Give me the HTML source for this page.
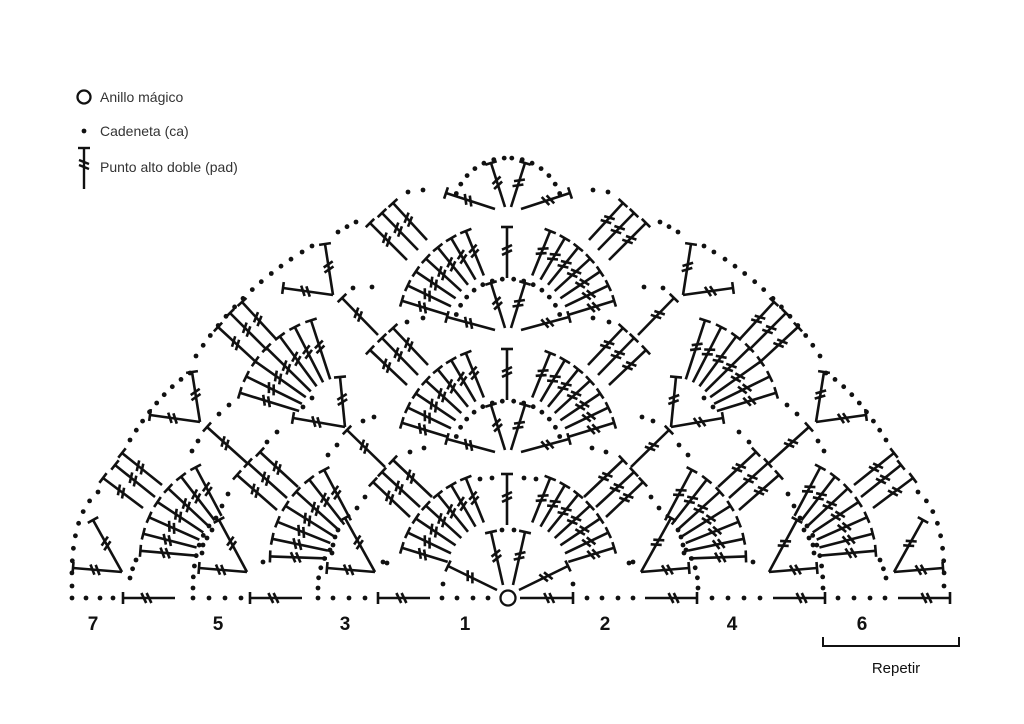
<!DOCTYPE html>
<html><head><meta charset="utf-8"><style>
html,body{margin:0;padding:0;background:#fff;}
#c{position:absolute;left:0;top:0;}
.t{font-family:"Liberation Sans",sans-serif;fill:#333;}
</style></head><body>
<svg id="c" width="1024" height="724" viewBox="0 0 1024 724" xmlns="http://www.w3.org/2000/svg">
<g id="g" stroke="#111" stroke-width="2.6" fill="none" stroke-linecap="butt"></g>
<g id="d" fill="#111"></g>
<circle cx="508" cy="598" r="7.5" stroke="#111" stroke-width="2.3" fill="#fff"/>
<!-- legend -->
<circle cx="84" cy="97" r="6.5" stroke="#111" stroke-width="2.3" fill="none"/>
<text class="t" x="100" y="102" font-size="14">Anillo mágico</text>
<circle cx="84" cy="131" r="2.4" fill="#111"/>
<text class="t" x="100" y="136" font-size="14">Cadeneta (ca)</text>
<g stroke="#111" stroke-width="2.4">
<line x1="84" y1="148" x2="84" y2="189"/><line x1="78" y1="148" x2="90" y2="148"/>
<line x1="79" y1="160" x2="89" y2="164"/><line x1="79" y1="165" x2="89" y2="169"/>
</g>
<text class="t" x="100" y="172" font-size="14">Punto alto doble (pad)</text>
<!-- row numbers -->
<g font-family="Liberation Sans, sans-serif" font-size="19" font-weight="bold" fill="#111" text-anchor="middle">
<text x="93" y="630">7</text><text x="218" y="630">5</text><text x="345" y="630">3</text>
<text x="465" y="630">1</text><text x="605" y="630">2</text><text x="732" y="630">4</text><text x="862" y="630">6</text>
</g>
<path d="M823,637 L823,646 L959,646 L959,637" stroke="#111" stroke-width="2" fill="none"/>
<text x="896" y="673" font-family="Liberation Sans, sans-serif" font-size="15" fill="#111" text-anchor="middle">Repetir</text>
</svg>
<script>
var G=[],D=[],M=false;
function X(x){return M?1016-x:x;}
function ln(a,b,c,d){G.push('<line x1="'+a.toFixed(1)+'" y1="'+b.toFixed(1)+'" x2="'+c.toFixed(1)+'" y2="'+d.toFixed(1)+'"/>');}
function dot(x,y){D.push('<circle cx="'+X(x).toFixed(1)+'" cy="'+y.toFixed(1)+'" r="2.4"/>');}
function st(x1,y1,x2,y2){
 x1=X(x1);x2=X(x2);
 var dx=x2-x1,dy=y2-y1,l=Math.hypot(dx,dy),ux=dx/l,uy=dy/l,px=-uy,py=ux;
 ln(x1,y1,x2,y2);
 ln(x2+px*6,y2+py*6,x2-px*6,y2-py*6);
 var cx=x1+dx*0.55,cy=y1+dy*0.55;
 var ca=Math.cos(0.45),sa=Math.sin(0.45);
 var bx=px*ca+ux*sa,by=py*ca+uy*sa;
 [-2.6,2.6].forEach(function(k){var ox=cx+ux*k,oy=cy+uy*k;ln(ox-bx*5.5,oy-by*5.5,ox+bx*5.5,oy+by*5.5);});
}
function fan(cx,cy,a1,a2,n,r1,r2){
 for(var i=0;i<n;i++){var a=(a1+(a2-a1)*i/(n-1))*Math.PI/180;
  st(cx+r1*Math.cos(a),cy-r1*Math.sin(a),cx+r2*Math.cos(a),cy-r2*Math.sin(a));}
}
function darc(cx,cy,r,a1,a2,step){
 var len=Math.abs(a2-a1)*Math.PI/180*r,n=Math.max(1,Math.round(len/(step||11)));
 for(var i=0;i<=n;i++){var a=(a1+(a2-a1)*i/n)*Math.PI/180;dot(cx+r*Math.cos(a),cy-r*Math.sin(a));}
}
function dq(x1,y1,qx,qy,x2,y2,step){
 step=step||12;var pts=[],L=0,px=x1,py=y1;
 for(var i=0;i<=200;i++){var t=i/200,x=(1-t)*(1-t)*x1+2*t*(1-t)*qx+t*t*x2,y=(1-t)*(1-t)*y1+2*t*(1-t)*qy+t*t*y2;L+=Math.hypot(x-px,y-py);pts.push([x,y,L]);px=x;py=y;}
 var n=Math.max(1,Math.round(L/step)),j=0;
 for(var k=0;k<=n;k++){var s=L*k/n;while(j<pts.length-1&&pts[j][2]<s)j++;dot(pts[j][0],pts[j][1]);}
}
function half(){
 [455,333].forEach(function(cy){
  st(495,cy-3,447,cy-16); st(505,cy-5,491,cy-50);
  darc(507,cy,54,160,95); fan(507,cy,163,112,7,62,110);
 });
 st(495,209,446,193); st(505,207,491,163); darc(507,212,54,160,93);
 st(497,590,448,566); st(503,585,491,532); dot(502,530);
 fan(507,580,163,112,7,62,110);
 dot(480,479);dot(492,478);
 [[122,572,73,568,93,520],[247,572,199,568,219,520],[375,572,327,568,345,518],
  [200,422,150,415,192,372],[345,427,293,418,340,377],[333,295,283,288,325,244]].forEach(function(c){
  st(c[0],c[1],c[2],c[3]); st(c[0],c[1],c[4],c[5]);});
 st(247,463,207,427); st(385,467,347,430); st(378,335,342,298);
 fan(345,425,163,108,7,48,110); fan(372,560,178,118,7,45,102); fan(245,560,175,118,7,50,105);
 var B=[
  [[122,453,162,485],[115,465,155,497],[103,478,143,508]],
  [[242,302,277,340],[230,313,267,350],[218,327,257,363]],
  [[393,203,427,240],[382,213,418,250],[370,223,407,260]],
  [[393,328,428,365],[382,338,418,375],[370,350,407,385]],
  [[393,460,432,497],[382,472,420,507],[373,482,410,517]],
  [[260,452,298,487],[248,463,287,498],[237,475,277,510]]];
 B.forEach(function(b){b.forEach(function(s){st(s[2],s[3],s[0],s[1]);});});
 dq(72,586,70,515,98,492,13);
 dq(130,440,160,392,190,373,12);
 dq(196,356,240,288,312,246,12);
 dq(338,232,346,227,356,222,12);
 dot(408,192);dot(423,190);
 dq(130,578,132,569,136,560,10);
 dq(193,588,193,540,216,518,11);
 dq(318,588,318,565,330,550,11);
 [[383,562],[365,497],[357,508],[337,445],[328,455],[407,322],[423,318],[410,452],[424,448],
  [353,288],[372,287],[363,421],[374,417],[198,441],[192,451],[229,405],[219,414],[277,432],[267,442],
  [228,494],[222,506],[263,562],[212,530],[207,538],[203,545],[202,553],[338,530],[335,537],[333,545],[332,553],
  [312,398],[303,407],[443,584],[387,563]].forEach(function(p){dot(p[0],p[1]);});
}
M=false;half();M=true;half();M=false;
st(507,525,507,474);st(507,400,507,349);st(507,278,507,227);
st(175,598,123,598);st(302,598,250,598);st(430,598,378,598);
st(520,598,573,598);st(645,598,697,598);st(773,598,825,598);st(898,598,950,598);
[72,86,100,113,193,209,225,241,318,333,349,365,442,457,473,488,587,602,618,633,712,728,744,760,838,854,870,885].forEach(function(x){dot(x,598);});
document.getElementById('g').innerHTML=G.join('');
document.getElementById('d').innerHTML=D.join('');
</script>
</body></html>
